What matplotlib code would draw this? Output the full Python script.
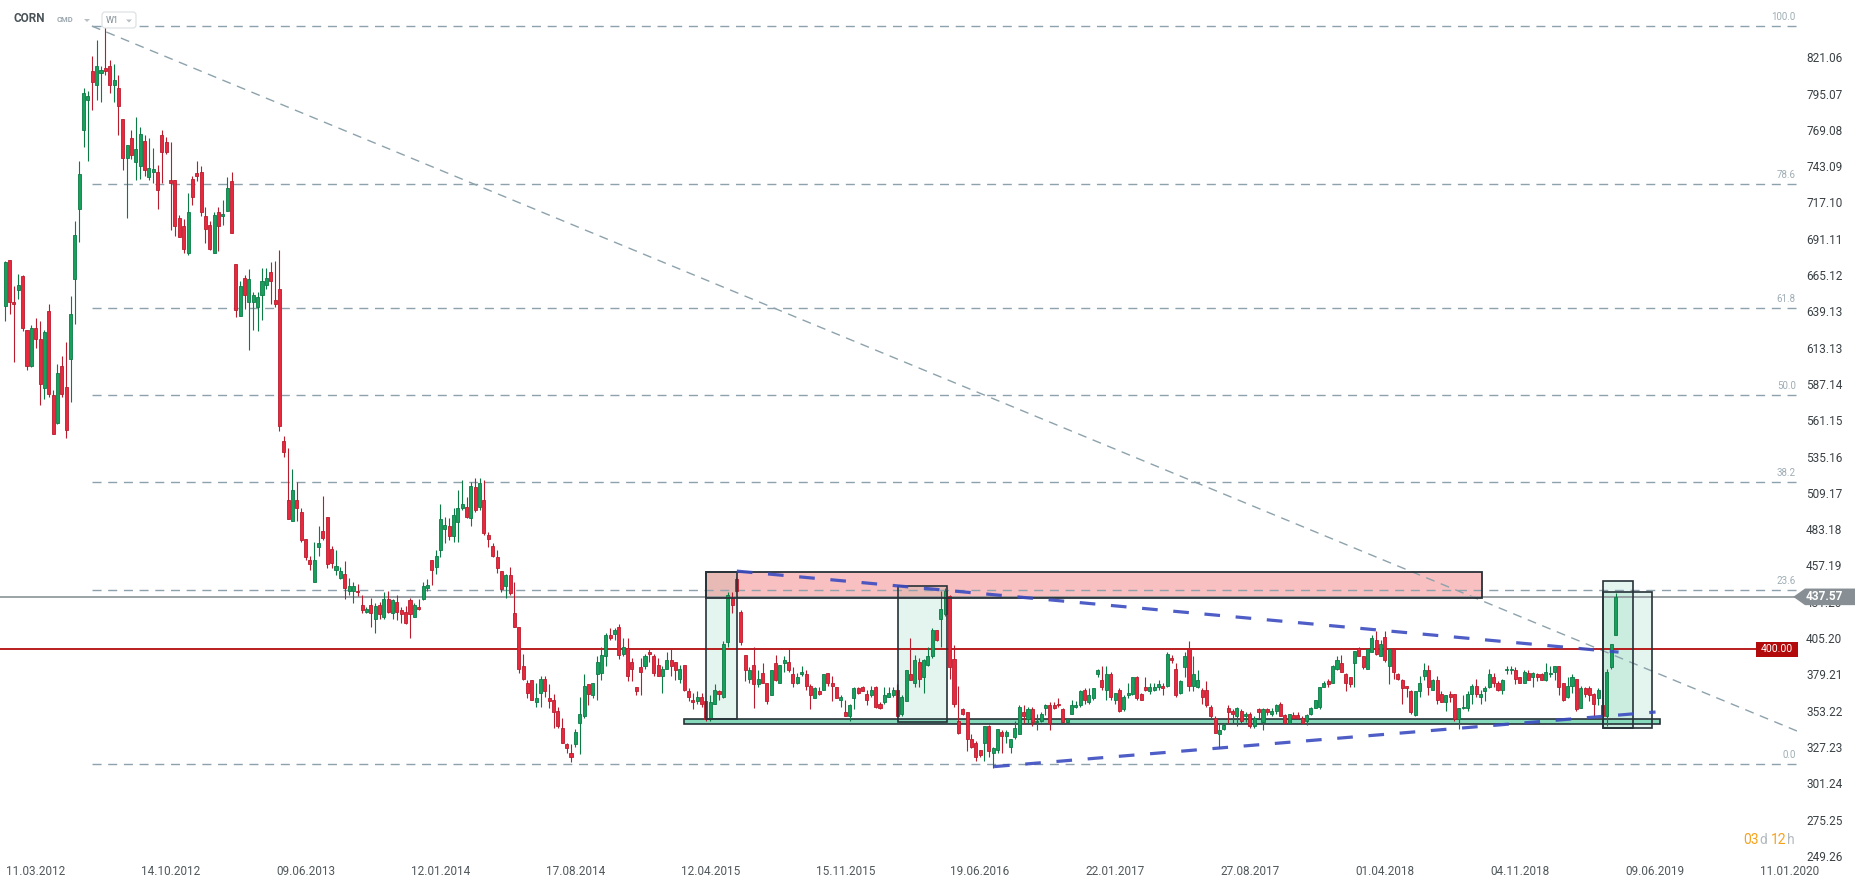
import numpy as np
import pandas as pd
import matplotlib
matplotlib.use("Agg")
import matplotlib.pyplot as plt
from matplotlib.patches import Rectangle, Polygon, FancyBboxPatch
from matplotlib.transforms import ScaledTranslation, blended_transform_factory, IdentityTransform

plt.rcParams['font.family'] = ['Roboto', 'DejaVu Sans']

# weekly CORN candles (W1), one entry per candle, oldest first
opens = [
    646, 679, 649, 657, 667, 629, 603, 630, 622, 587, 642, 582, 562, 603, 588, 608, 665, 715, 772, 793,
    814, 804, 813, 816, 818, 804, 802, 780, 752, 766, 749, 746, 764, 738, 742, 742, 768, 763, 736, 736,
    709, 703, 684, 737, 741, 742, 710, 704, 684, 713, 710, 714, 735, 676, 639, 666, 649, 649, 645, 654,
    661, 670, 650, 658, 549, 507, 492, 507, 498, 479, 464, 448, 473, 485, 495, 472, 457, 451, 454, 442,
    442, 442, 432, 427, 432, 422, 432, 423, 436, 426, 434, 428, 427, 435, 423, 430, 436, 444, 464, 459,
    471, 486, 488, 481, 491, 501, 502, 494, 516, 502, 507, 482, 474, 466, 456, 445, 453, 426, 416, 388,
    376, 378, 362, 369, 379, 365, 364, 356, 344, 332, 326, 332, 347, 352, 375, 367, 382, 383, 395, 410,
    411, 416, 397, 401, 391, 373, 387, 388, 398, 395, 389, 381, 386, 392, 391, 379, 389, 370, 364, 363,
    366, 363, 351, 361, 370, 366, 405, 437, 450, 427, 396, 379, 389, 375, 383, 376, 367, 390, 376, 390,
    391, 382, 376, 382, 382, 374, 365, 370, 371, 383, 376, 373, 364, 355, 352, 365, 372, 373, 368, 367,
    373, 361, 362, 366, 367, 371, 354, 363, 382, 376, 391, 380, 389, 395, 414, 422, 425, 438, 393, 349,
    357, 355, 336, 333, 328, 333, 345, 326, 328, 341, 338, 330, 337, 339, 355, 350, 357, 348, 349, 358,
    360, 360, 361, 357, 348, 354, 359, 360, 371, 362, 365, 382, 378, 371, 382, 364, 371, 357, 367, 368,
    380, 368, 373, 370, 371, 373, 374, 374, 394, 386, 369, 387, 400, 374, 373, 371, 371, 359, 351, 339,
    343, 358, 356, 352, 356, 352, 354, 345, 357, 348, 357, 354, 356, 361, 353, 347, 353, 353, 351, 349,
    354, 358, 359, 373, 377, 376, 386, 390, 382, 380, 390, 401, 395, 386, 398, 407, 395, 409, 388, 400,
    382, 378, 374, 370, 353, 370, 381, 385, 371, 378, 368, 362, 368, 368, 350, 358, 358, 368, 374, 366,
    370, 373, 380, 376, 371, 385, 385, 385, 380, 376, 383, 380, 382, 382, 378, 382, 384, 388, 376, 366,
    374, 379, 358, 372, 372, 368, 365, 360, 352, 387, 410,
]
highs = [
    678, 679, 660, 669, 668, 629, 632, 637, 635, 629, 647, 586, 604, 610, 620, 653, 707, 750, 802, 800,
    825, 836, 818, 846, 822, 819, 811, 780, 761, 772, 781, 774, 768, 766, 759, 747, 772, 767, 763, 736,
    711, 708, 727, 739, 750, 746, 717, 707, 713, 717, 722, 738, 742, 676, 664, 668, 672, 656, 656, 673,
    673, 677, 678, 686, 553, 544, 529, 520, 501, 479, 467, 477, 488, 510, 495, 474, 471, 459, 463, 451,
    448, 447, 439, 430, 437, 433, 434, 441, 442, 436, 439, 430, 431, 437, 433, 436, 448, 450, 464, 471,
    504, 495, 494, 501, 514, 521, 509, 520, 523, 523, 521, 484, 476, 471, 456, 454, 459, 448, 416, 397,
    378, 378, 376, 381, 381, 375, 368, 359, 351, 333, 332, 343, 366, 382, 375, 376, 395, 402, 412, 415,
    415, 418, 408, 408, 394, 373, 394, 397, 400, 397, 394, 388, 398, 400, 391, 389, 389, 372, 369, 370,
    369, 363, 367, 375, 371, 406, 441, 441, 452, 428, 396, 387, 402, 385, 390, 376, 385, 396, 389, 395,
    401, 387, 383, 388, 385, 375, 373, 373, 382, 383, 381, 373, 367, 364, 361, 373, 373, 374, 371, 374,
    374, 362, 373, 373, 373, 375, 367, 385, 408, 396, 394, 393, 402, 415, 414, 442, 444, 439, 403, 374,
    358, 355, 339, 334, 328, 345, 346, 330, 343, 342, 342, 336, 349, 360, 360, 359, 359, 354, 355, 361,
    362, 362, 365, 358, 351, 364, 363, 371, 372, 372, 372, 386, 388, 388, 384, 369, 372, 367, 376, 380,
    381, 369, 380, 376, 376, 378, 376, 398, 396, 390, 378, 398, 406, 395, 385, 372, 377, 360, 352, 347,
    347, 360, 357, 359, 357, 355, 355, 352, 358, 358, 358, 358, 361, 362, 354, 354, 355, 355, 352, 354,
    359, 364, 373, 377, 379, 389, 395, 396, 383, 380, 399, 402, 395, 400, 410, 413, 407, 413, 401, 401,
    383, 379, 374, 371, 370, 381, 390, 389, 379, 381, 370, 367, 370, 368, 358, 367, 370, 375, 379, 371,
    374, 386, 383, 377, 379, 388, 388, 387, 380, 385, 385, 384, 383, 383, 390, 388, 388, 388, 376, 380,
    382, 379, 374, 373, 374, 369, 372, 360, 386, 404, 440,
]
lows = [
    635, 640, 606, 651, 628, 600, 602, 616, 575, 579, 581, 554, 561, 581, 551, 577, 633, 692, 760, 750,
    786, 793, 792, 811, 798, 792, 768, 743, 709, 751, 736, 737, 739, 736, 734, 715, 734, 755, 700, 696,
    695, 684, 682, 718, 735, 710, 691, 686, 684, 685, 704, 714, 698, 638, 639, 644, 614, 629, 628, 636,
    658, 647, 645, 556, 538, 493, 492, 492, 477, 464, 457, 448, 467, 478, 458, 458, 453, 450, 436, 439,
    433, 438, 426, 426, 416, 412, 422, 422, 426, 422, 421, 419, 418, 408, 423, 428, 435, 442, 446, 454,
    466, 476, 478, 477, 477, 500, 494, 488, 498, 500, 482, 473, 466, 455, 441, 437, 439, 416, 383, 378,
    365, 364, 359, 359, 366, 358, 344, 344, 333, 326, 319, 330, 325, 351, 360, 365, 364, 378, 388, 407,
    407, 393, 395, 377, 377, 367, 367, 386, 391, 381, 381, 369, 386, 381, 378, 376, 370, 363, 357, 361,
    359, 349, 349, 361, 364, 365, 402, 426, 441, 403, 377, 376, 358, 373, 376, 361, 367, 377, 376, 384,
    384, 373, 375, 381, 371, 357, 365, 367, 371, 374, 363, 365, 359, 352, 349, 357, 368, 370, 360, 366,
    358, 357, 361, 366, 366, 352, 352, 363, 378, 373, 373, 369, 388, 394, 406, 402, 424, 379, 359, 339,
    353, 327, 329, 320, 323, 320, 323, 315, 326, 326, 333, 326, 336, 339, 347, 347, 345, 342, 348, 353,
    342, 357, 359, 347, 347, 354, 358, 359, 361, 361, 364, 380, 371, 364, 364, 361, 355, 356, 365, 367,
    364, 364, 370, 368, 370, 371, 367, 373, 390, 366, 368, 380, 370, 370, 372, 361, 359, 351, 340, 329,
    342, 347, 347, 345, 347, 348, 344, 344, 351, 342, 353, 352, 354, 352, 347, 347, 350, 350, 347, 346,
    353, 358, 357, 373, 373, 376, 385, 384, 370, 373, 373, 395, 386, 386, 398, 396, 395, 391, 375, 379,
    378, 361, 366, 354, 352, 366, 378, 367, 371, 361, 362, 356, 362, 349, 343, 357, 356, 361, 366, 361,
    363, 372, 373, 370, 368, 382, 382, 375, 376, 376, 378, 373, 377, 378, 377, 380, 378, 367, 363, 365,
    369, 356, 358, 366, 363, 352, 360, 351, 345, 386, 410,
]
closes = [
    677, 649, 647, 661, 630, 603, 630, 622, 590, 627, 583, 554, 598, 583, 557, 640, 697, 740, 798, 796,
    806, 818, 815, 814, 804, 808, 789, 752, 761, 754, 758, 769, 743, 745, 744, 729, 756, 756, 734, 703,
    695, 687, 713, 724, 739, 713, 701, 687, 711, 703, 712, 730, 698, 643, 660, 654, 665, 654, 652, 664,
    666, 664, 647, 560, 541, 493, 514, 501, 478, 466, 461, 464, 476, 480, 461, 462, 460, 456, 444, 445,
    445, 441, 428, 429, 426, 431, 425, 436, 427, 435, 427, 425, 419, 425, 432, 429, 445, 446, 457, 467,
    493, 489, 481, 496, 501, 504, 495, 517, 500, 519, 483, 479, 467, 458, 443, 453, 440, 416, 386, 379,
    369, 364, 365, 379, 370, 363, 355, 345, 333, 329, 323, 341, 354, 374, 368, 376, 391, 396, 410, 408,
    414, 396, 402, 381, 386, 370, 384, 395, 397, 383, 381, 386, 392, 388, 385, 386, 371, 366, 362, 366,
    361, 350, 362, 371, 368, 404, 439, 432, 442, 405, 385, 385, 375, 379, 376, 363, 385, 378, 389, 392,
    385, 376, 380, 384, 374, 367, 372, 368, 382, 376, 374, 365, 366, 352, 360, 372, 369, 370, 364, 371,
    359, 358, 367, 369, 371, 352, 366, 385, 378, 392, 379, 392, 395, 414, 407, 429, 442, 387, 361, 340,
    354, 336, 330, 323, 324, 345, 327, 329, 343, 338, 341, 336, 344, 359, 352, 357, 348, 349, 354, 360,
    347, 358, 360, 348, 350, 360, 360, 370, 364, 367, 372, 385, 373, 382, 366, 369, 356, 366, 369, 380,
    365, 364, 371, 373, 373, 375, 372, 397, 392, 367, 377, 395, 374, 382, 378, 366, 360, 352, 340, 342,
    346, 355, 354, 358, 349, 354, 345, 351, 355, 357, 355, 356, 360, 352, 347, 354, 351, 351, 347, 353,
    358, 364, 373, 376, 375, 388, 392, 384, 376, 375, 399, 395, 387, 400, 408, 397, 404, 392, 400, 384,
    379, 372, 372, 355, 370, 376, 385, 373, 378, 364, 362, 367, 366, 350, 358, 359, 368, 374, 368, 368,
    372, 382, 376, 371, 378, 386, 386, 379, 376, 384, 378, 383, 380, 378, 384, 383, 388, 373, 364, 374,
    380, 357, 372, 368, 367, 361, 371, 352, 384, 404, 437.57,
]

price_ticks = [821.06, 795.07, 769.08, 743.09, 717.10, 691.11, 665.12, 639.13, 613.13, 587.14, 561.15,
               535.16, 509.17, 483.18, 457.19, 431.20, 405.20, 379.21, 353.22, 327.23, 301.24, 275.25, 249.26]
# one date label every 31 candles, starting at candle 7
date_ticks = ['11.03.2012', '14.10.2012', '09.06.2013', '12.01.2014', '17.08.2014', '12.04.2015', '15.11.2015',
              '19.06.2016', '22.01.2017', '27.08.2017', '01.04.2018', '04.11.2018', '09.06.2019', '11.01.2020']

last_price = 437.57
level_price = 400.00
fib_high, fib_low = 846.3, 317.7
fib_pcts = [100.0, 78.6, 61.8, 50.0, 38.2, 23.6, 0.0]

# drawings, x in candle index
fib_start = 19.9
diag_line = [(19.9, 846.3), (411.7, 341.5)]
upper_trend = [(168.1, 456.0), (370.7, 398.0)]
lower_trend = [(227.2, 316.0), (379.2, 355.1)]
range_boxes = [(161.1, 168.05, 350.4, 455.6), (205.2, 216.3, 347.7, 445.1),
               (367.2, 374.1, 343.5, 448.7), (367.2, 378.3, 343.5, 440.8)]
resist_zone = (161.1, 339.3, 436.5, 455.1)
support_zone = (156.0, 380.3, 346.3, 349.9)

W, H = 1866, 885
fig = plt.figure(figsize=(W / 100, H / 100), dpi=100)
ax = fig.add_axes([0, 23 / H, 1797 / W, 862 / H])
ax.set_xlim(-1.204, 411.7)
ax.set_ylim(247.7, 864.95)
for s in ax.spines.values():
    s.set_visible(False)
xmax = ax.get_xlim()[1]

# zones and boxes
z = resist_zone
ax.add_patch(Rectangle((z[0], z[2]), z[1] - z[0], z[3] - z[2], fc='#ee5a5a', alpha=0.38, ec='none', zorder=1.2))
ax.add_patch(Rectangle((z[0], z[2]), z[1] - z[0], z[3] - z[2], fc='none', ec='#263238', lw=1.3, zorder=4.5))
for b in range_boxes:
    ax.add_patch(Rectangle((b[0], b[2]), b[1] - b[0], b[3] - b[2], fc='#3dbf8a', alpha=0.14, ec='none', zorder=1.1))
    ax.add_patch(Rectangle((b[0], b[2]), b[1] - b[0], b[3] - b[2], fc='none', ec='#263238', lw=1.2, zorder=4.5))
z = support_zone
ax.add_patch(Rectangle((z[0], z[2]), z[1] - z[0], z[3] - z[2], fc='#86d9bb', ec='#263238', lw=1.2, zorder=2.5))

# fibonacci retracement
for p in fib_pcts:
    lvl = fib_low + (fib_high - fib_low) * p / 100
    ax.plot([fib_start, xmax], [lvl, lvl], color='#8da2ac', lw=1.0, dashes=(6.5, 4.8), zorder=2)
    ax.annotate(f'{p:.1f}', (xmax, lvl), xytext=(-1, 3), textcoords='offset points',
                ha='right', va='bottom', fontsize=7, color='#9eadb5', zorder=2)
(x0, y0), (x1, y1) = diag_line
ax.plot([x0, x1], [y0, y1], color='#8da2ac', lw=1.0, dashes=(6.5, 4.8), zorder=2)

# horizontal levels
ax.axhline(last_price, color='#8b9398', lw=1.2, zorder=2)
ax.plot([-2, xmax], [level_price, level_price], color='#b40d0d', lw=1.3, zorder=2)

# candles
o = np.array(opens, float)
h = np.array(highs, float)
l = np.array(lows, float)
c = np.array(closes, float)
x = np.arange(len(o))
up = c >= o
lo = np.minimum(o, c)
bh = np.maximum(np.abs(c - o), 0.6)
ax.vlines(x[up], l[up], h[up], color='#0c7a45', lw=0.8, zorder=3)
ax.vlines(x[~up], l[~up], h[~up], color='#b81d2e', lw=0.8, zorder=3)
ax.bar(x[up], bh[up], bottom=lo[up], width=0.7, color='#16a05c', edgecolor='#0c7a45', linewidth=0.6, zorder=4)
ax.bar(x[~up], bh[~up], bottom=lo[~up], width=0.7, color='#e9283d', edgecolor='#b81d2e', linewidth=0.6, zorder=4)

# trend lines
for tl in (upper_trend, lower_trend):
    (x0, y0), (x1, y1) = tl
    ax.plot([x0, x1], [y0, y1], color='#3b4cc0', lw=2.3, dashes=(4.9, 4.9), alpha=0.9, zorder=5,
            dash_capstyle='butt')

# axes ticks
ax.set_xticks(7 + 31 * np.arange(len(date_ticks)))
ax.set_xticklabels(date_ticks)
ax.tick_params(axis='x', length=0, pad=2, labelsize=8.5, labelcolor='#50585c')
ax.yaxis.tick_right()
ax.set_yticks(price_ticks)
ax.set_yticklabels([f'{v:.2f}' for v in price_ticks])
ax.tick_params(axis='y', length=0, pad=6.5, labelsize=8.5, labelcolor='#3a4145')
shift = ScaledTranslation(0, 4 / 100, fig.dpi_scale_trans)
for lbl in ax.get_yticklabels():
    lbl.set_transform(lbl.get_transform() + shift)

# price labels on the right
bt = blended_transform_factory(fig.transFigure, ax.transData)
hb = 7.2 / 1.3965
ax.add_patch(Rectangle((1756 / W, level_price - hb), 42 / W, 2 * hb, transform=bt, fc='#b30b0b', ec='none',
                       zorder=7, clip_on=False))
ax.text(1777 / W, level_price, '400.00', transform=bt, ha='center', va='center', color='white', fontsize=7.5,
        zorder=8, clip_on=False)
hh = 8.3 / 1.3965
arrow = Polygon([(1793.3 / W, last_price), (1805 / W, last_price + hh), (1855 / W, last_price + hh),
                 (1855 / W, last_price - hh), (1805 / W, last_price - hh)],
                closed=True, transform=bt, fc='#878f94', ec='none', zorder=7, clip_on=False)
ax.add_patch(arrow)
ax.text(1806 / W, last_price, f'{last_price:.2f}', transform=bt, ha='left', va='center', color='white',
        fontsize=8.5, fontweight='bold', zorder=8, clip_on=False)

# countdown
yc = 1 - 839.5 / H
fig.text(1759 / W, yc, '03', color='#f7a21b', fontsize=10, va='center', ha='right')
fig.text(1759.5 / W, yc, 'd', color='#b3babe', fontsize=10, va='center', ha='left')
fig.text(1786 / W, yc, '12', color='#f7a21b', fontsize=10, va='center', ha='right')
fig.text(1786.5 / W, yc, 'h', color='#b3babe', fontsize=10, va='center', ha='left')

# header
fig.text(14 / W, 1 - 19 / H, 'CORN', fontsize=8.5, fontweight='bold', color='#4a5358', va='center')
fig.text(57 / W, 1 - 20 / H, 'CMD', fontsize=5.5, fontweight='bold', color='#9aa7ae', va='center')
idt = IdentityTransform()
fig.patches.append(Polygon([(84, H - 19), (90, H - 19), (87, H - 22)], closed=True, fc='#b8c0c4', ec='none',
                           transform=idt, figure=fig))
fig.patches.append(FancyBboxPatch((102, H - 28), 34, 16, boxstyle='round,pad=0,rounding_size=3',
                                  fc='white', ec='#dadfe2', lw=0.8, transform=idt, figure=fig))
fig.text(106 / W, 1 - 20.5 / H, 'W1', fontsize=6.5, color='#7d8b92', va='center')
fig.patches.append(Polygon([(126, H - 19.5), (132, H - 19.5), (129, H - 22.5)], closed=True, fc='#b8c0c4',
                           ec='none', transform=idt, figure=fig))

fig.savefig('out.png', dpi=100, facecolor='white')
